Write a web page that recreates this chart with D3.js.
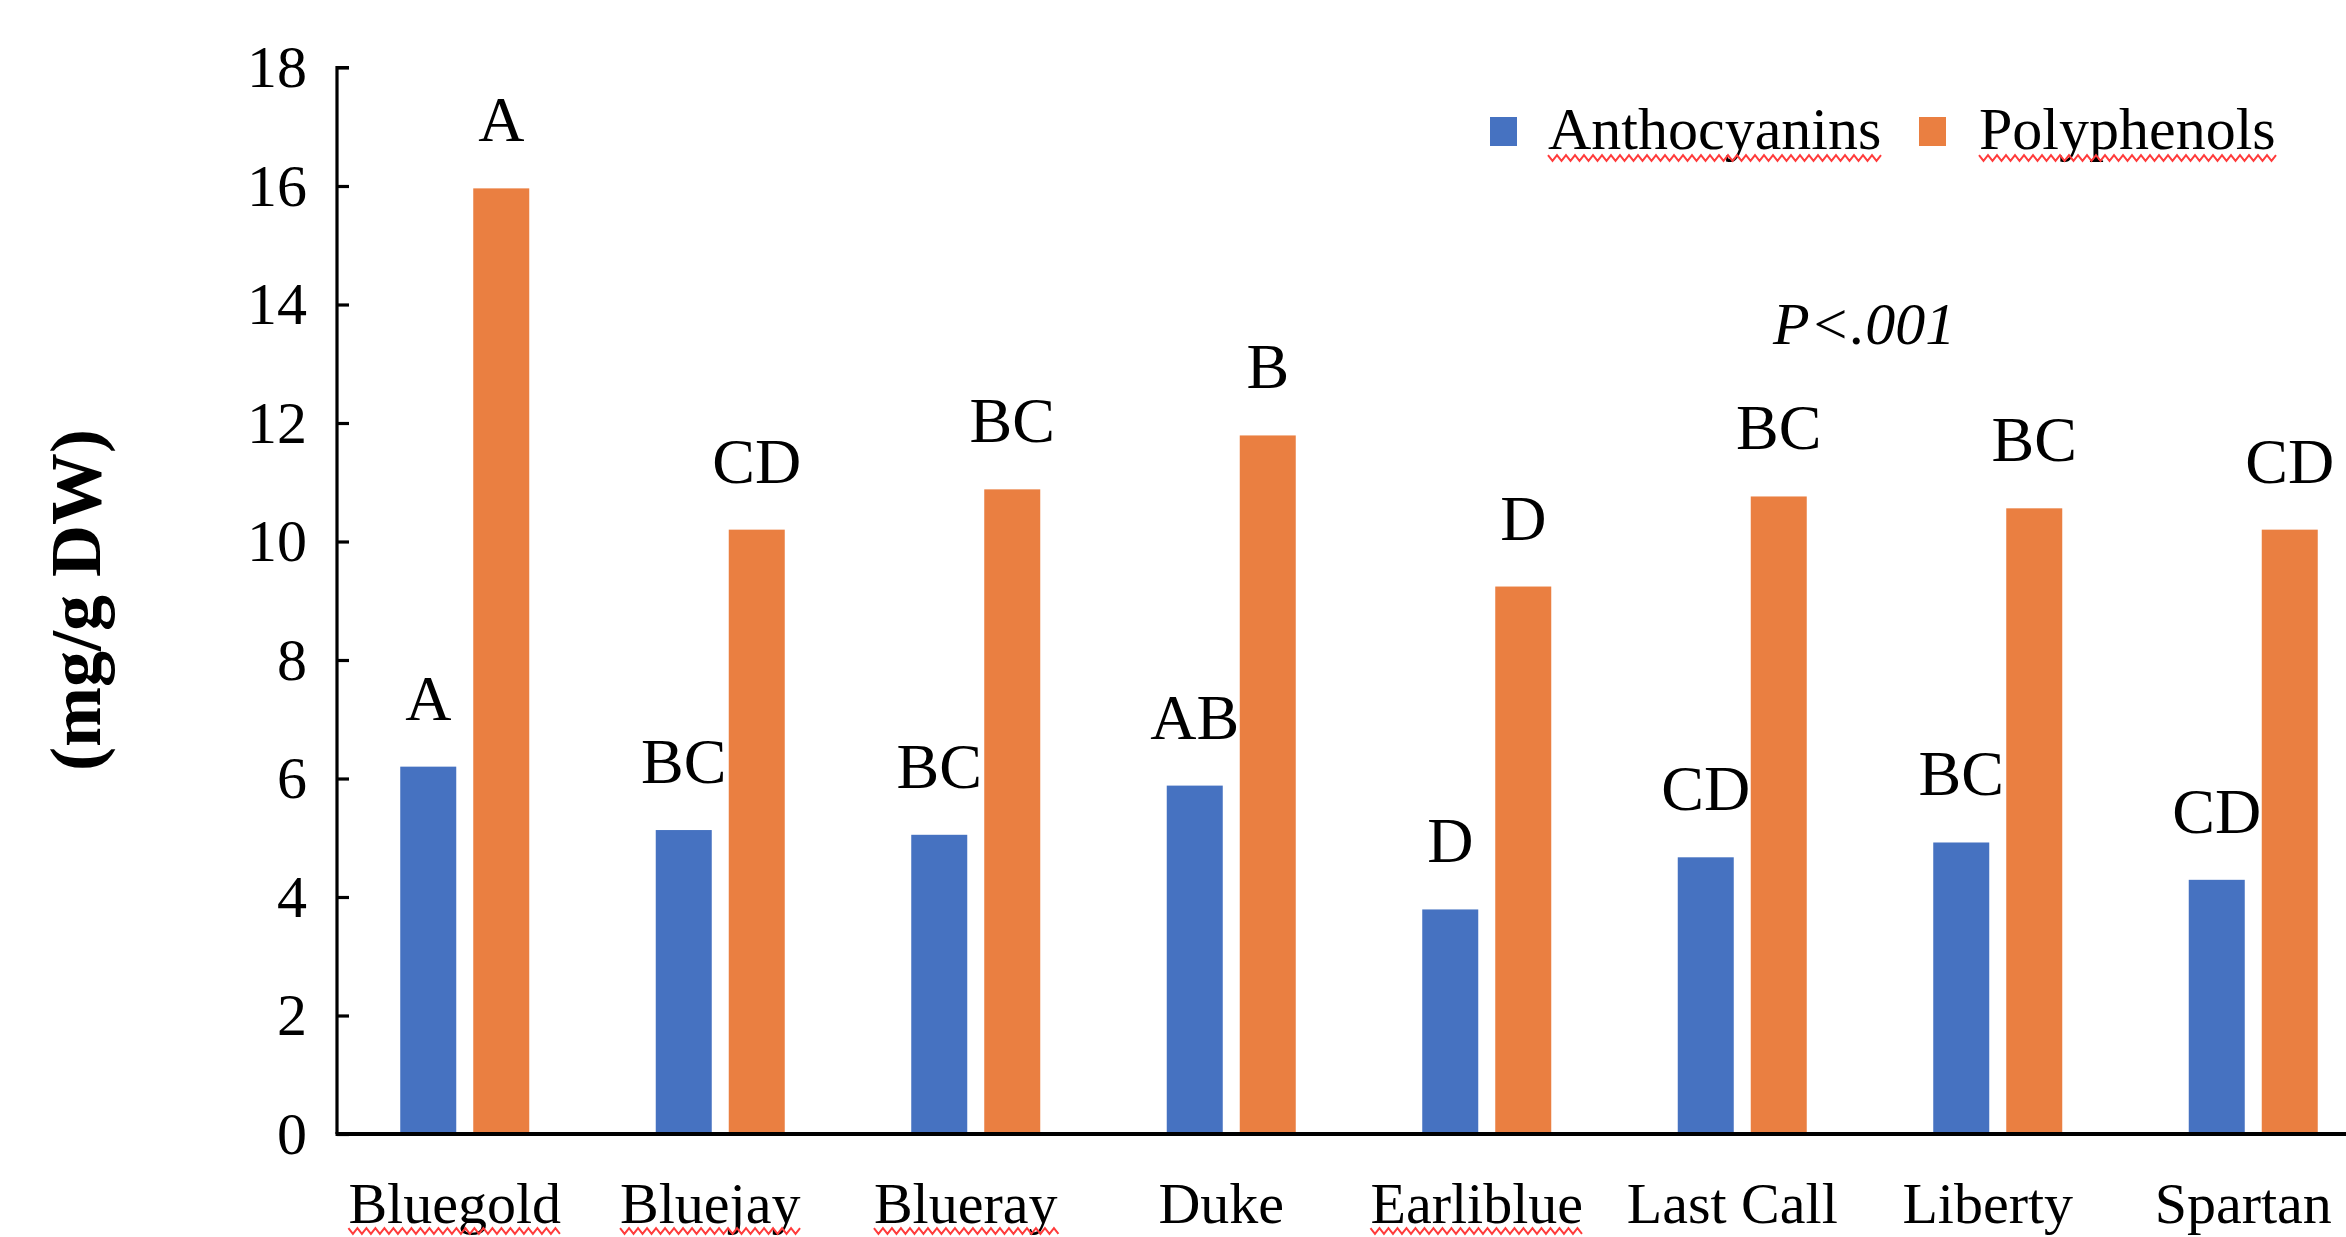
<!DOCTYPE html>
<html>
<head>
<meta charset="utf-8">
<script src="https://cdn.jsdelivr.net/npm/d3@7"></script>
<style>
  html, body { margin: 0; padding: 0; background: #fff; }
  svg { display: block; }
  text { font-family: "Liberation Serif", "Times New Roman", serif; fill: #000; }
</style>
</head>
<body>
<svg id="chart" width="2346" height="1237"></svg>
<script>
// Blueberry cultivars and their measured contents (mg/g DW)
const cultivars = ["Bluegold", "Bluejay", "Blueray", "Duke", "Earliblue", "Last Call", "Liberty", "Spartan"];
const seriesNames = ["Anthocyanins", "Polyphenols"];
const anthocyanins = [6.2, 5.13, 5.05, 5.88, 3.79, 4.67, 4.92, 4.29];
const polyphenols = [15.96, 10.2, 10.88, 11.79, 9.24, 10.76, 10.56, 10.2];
// Mean-separation letters for each series
const anthoLetters = ["A", "BC", "BC", "AB", "D", "CD", "BC", "CD"];
const polyLetters = ["A", "CD", "BC", "B", "D", "BC", "BC", "CD"];
const yTicks = [0, 2, 4, 6, 8, 10, 12, 14, 16, 18];
const yTitle = "(mg/g DW)";
const pNote = "P<.001";
// Words carrying a wavy red underline
const wavyWords = ["Bluegold", "Bluejay", "Blueray", "Earliblue", "Anthocyanins", "Polyphenols"];

const colors = { Anthocyanins: "#4672C1", Polyphenols: "#EA7F41" };

const svg = d3.select("#chart");
svg.append("rect").attr("width", 2346).attr("height", 1237).attr("fill", "#fff");

const axisX = 337;
const step = 255.5;
const x = d3.scaleBand().domain(cultivars).range([axisX, axisX + step * cultivars.length]).padding(0);
const y = d3.scaleLinear().domain([0, 18]).range([1134, 67.5]);
const inner = d3.scaleBand().domain(seriesNames).range([0, 129]).paddingInner(17 / 73).paddingOuter(0);

const rows = cultivars.map((c, i) => ({
  cultivar: c,
  values: [
    { key: "Anthocyanins", value: anthocyanins[i], letter: anthoLetters[i] },
    { key: "Polyphenols", value: polyphenols[i], letter: polyLetters[i] }
  ]
}));

// zigzag underline below a text element
function wavyUnder(node, yLine) {
  const b = node.getBBox();
  const period = 9, amp = 2.8;
  const pts = [];
  for (let xx = b.x, k = 0; xx <= b.x + b.width + 1; xx += period / 2, k++) {
    pts.push([xx, yLine + (k % 2 === 0 ? -amp : amp)]);
  }
  svg.append("path")
    .attr("d", d3.line()(pts))
    .attr("fill", "none")
    .attr("stroke", "#FF3B3B")
    .attr("stroke-width", 2);
}

// bars
const groups = svg.append("g").selectAll("g").data(rows).join("g")
  .attr("transform", d => `translate(${x(d.cultivar) + x.bandwidth() / 2 - 64.5},0)`);

groups.selectAll("rect").data(d => d.values).join("rect")
  .attr("x", d => inner(d.key))
  .attr("width", inner.bandwidth())
  .attr("y", d => y(d.value))
  .attr("height", d => y(0) - y(d.value))
  .attr("fill", d => colors[d.key]);

// significance letters
groups.selectAll("text.letter").data(d => d.values).join("text")
  .attr("class", "letter")
  .attr("x", d => inner(d.key) + inner.bandwidth() / 2)
  .attr("y", d => y(d.value) - 47)
  .attr("text-anchor", "middle")
  .style("font-size", "64px")
  .text(d => d.letter);

// y axis with inward ticks
const yAxis = d3.axisRight(y).tickValues(yTicks).tickSize(12).tickFormat("");
const gy = svg.append("g").attr("transform", `translate(${axisX},0)`).call(yAxis);
gy.select(".domain").attr("stroke", "#000").attr("stroke-width", 3.2)
  .attr("d", `M12,${y(18)}H0V${y(0)}`);
gy.selectAll(".tick line").attr("stroke", "#000").attr("stroke-width", 3.2);

svg.append("g").selectAll("text").data(yTicks).join("text")
  .attr("x", 307)
  .attr("y", d => y(d))
  .attr("dy", "0.33em")
  .attr("text-anchor", "end")
  .style("font-size", "60px")
  .text(d => d);

// x axis baseline
const xAxis = d3.axisBottom(x).tickSize(0).tickFormat("");
const gx = svg.append("g").attr("transform", `translate(0,${y(0)})`).call(xAxis);
gx.select(".domain").attr("stroke", "#000").attr("stroke-width", 4)
  .attr("d", `M${axisX - 1.5},0H2346`);

// category labels
svg.append("g").selectAll("text").data(cultivars).join("text")
  .attr("x", d => x(d) + x.bandwidth() / 2 - 10)
  .attr("y", 1223)
  .attr("text-anchor", "middle")
  .style("font-size", "58px")
  .text(d => d)
  .each(function (d) { if (wavyWords.includes(d)) wavyUnder(this, 1231); });

// y axis title
svg.append("text")
  .attr("transform", "translate(100,600) rotate(-90)")
  .attr("text-anchor", "middle")
  .style("font-size", "72px")
  .style("font-weight", "bold")
  .text(yTitle);

// legend
const legendItems = [
  { key: "Anthocyanins", sx: 1490, tx: 1548 },
  { key: "Polyphenols", sx: 1919, tx: 1979 }
];
legendItems.forEach(item => {
  svg.append("rect")
    .attr("x", item.sx).attr("y", 117)
    .attr("width", 27).attr("height", 29)
    .attr("fill", colors[item.key]);
  svg.append("text")
    .attr("x", item.tx).attr("y", 149)
    .style("font-size", "60px")
    .text(item.key)
    .each(function () { if (wavyWords.includes(item.key)) wavyUnder(this, 158); });
});

// significance note
svg.append("text")
  .attr("x", 1773).attr("y", 344)
  .style("font-size", "60px")
  .style("font-style", "italic")
  .text(pNote);
</script>
</body>
</html>
